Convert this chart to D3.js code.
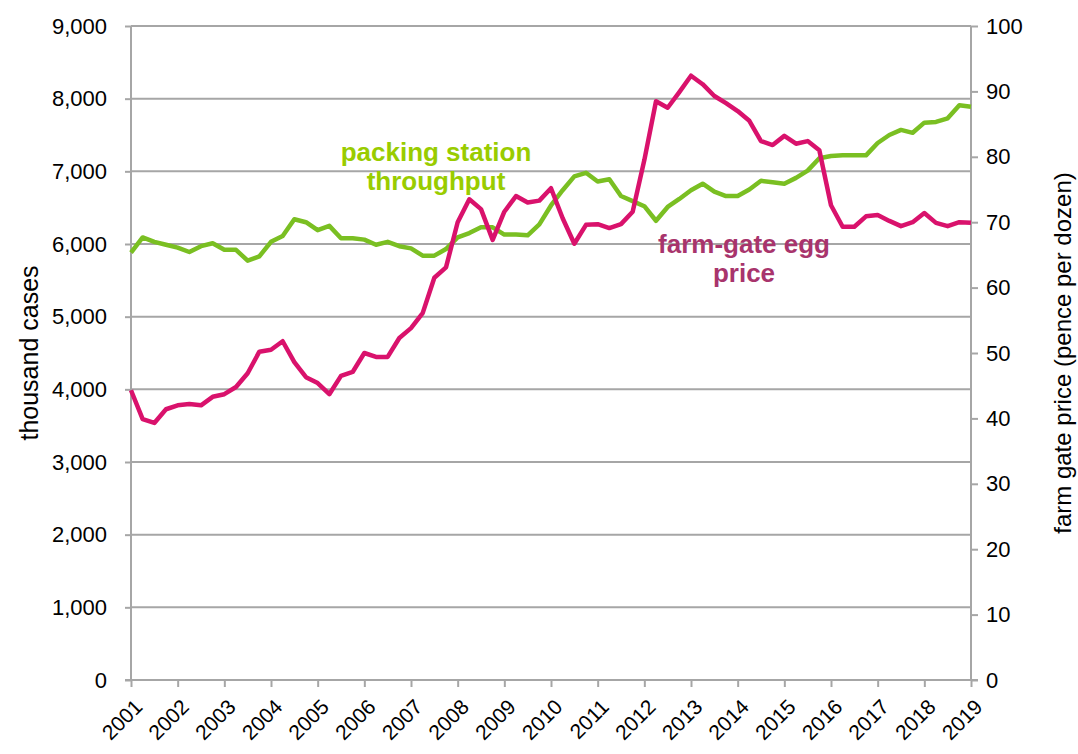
<!DOCTYPE html>
<html>
<head>
<meta charset="utf-8">
<script src="https://cdn.jsdelivr.net/npm/d3@7"></script>
<style>
body { margin: 0; background: #fff; }
text { font-family: "Liberation Sans", Arial, sans-serif; }
</style>
</head>
<body>
<div id="chart"></div>
<script>
// quarterly, 2001 Q1 .. 2019 Q1
var years = d3.range(2001, 2020);
var throughput = [5880, 6090, 6030, 5990, 5950, 5890, 5970, 6010, 5920, 5920, 5770, 5830,
    6030, 6110, 6340, 6300, 6190, 6250, 6080, 6080, 6060, 5990, 6030, 5970,
    5940, 5840, 5840, 5930, 6090, 6150, 6230, 6230, 6130, 6130, 6120, 6270,
    6530, 6740, 6930, 6980, 6860, 6890, 6660, 6590, 6520, 6320, 6510, 6620,
    6740, 6830, 6720, 6660, 6660, 6750, 6870, 6850, 6830, 6910, 7010, 7180,
    7210, 7220, 7220, 7220, 7390, 7500, 7570, 7530, 7670, 7680, 7730, 7910,
    7890];
var eggPrice = [44.3, 39.9, 39.3, 41.4, 42.0, 42.2, 42.0, 43.3, 43.7, 44.8, 46.9, 50.2,
    50.5, 51.8, 48.6, 46.3, 45.4, 43.7, 46.5, 47.1, 50.0, 49.4, 49.4, 52.3,
    53.8, 56.1, 61.5, 63.1, 70.0, 73.5, 72.0, 67.3, 71.6, 74.0, 73.0, 73.3,
    75.2, 70.6, 66.7, 69.6, 69.7, 69.1, 69.7, 71.6, 79.5, 88.5, 87.5, 89.9,
    92.4, 91.1, 89.3, 88.2, 87.0, 85.5, 82.4, 81.8, 83.2, 82.0, 82.4, 81.0,
    72.6, 69.3, 69.3, 70.9, 71.1, 70.2, 69.4, 70.0, 71.4, 69.9, 69.4, 70.0,
    69.9];
var leftTicks = d3.range(0, 9001, 1000);
var rightTicks = d3.range(0, 101, 10);

var width = 1078, height = 754;
var margin = {top: 26, right: 107, bottom: 74, left: 131};
var gridColor = "#a6a6a6";

var svg = d3.select("#chart").append("svg")
    .attr("width", width)
    .attr("height", height);

var x = d3.scaleLinear().domain([2001, 2019]).range([margin.left, width - margin.right]);
var yL = d3.scaleLinear().domain([0, 9000]).range([height - margin.bottom, margin.top]);
var yR = d3.scaleLinear().domain([0, 100]).range([height - margin.bottom, margin.top]);

// gridlines
svg.append("g").selectAll("line")
    .data(leftTicks)
    .enter().append("line")
    .attr("x1", margin.left)
    .attr("x2", width - margin.right)
    .attr("y1", function(d){ return yL(d); })
    .attr("y2", function(d){ return yL(d); })
    .attr("stroke", gridColor)
    .attr("stroke-width", 2);

// left axis
var leftAxis = svg.append("g")
    .attr("transform", "translate(" + margin.left + ",0)")
    .call(d3.axisLeft(yL).tickValues(leftTicks).tickFormat(d3.format(",")).tickSize(6).tickPadding(18));

// right axis
var rightAxis = svg.append("g")
    .attr("transform", "translate(" + (width - margin.right) + ",0)")
    .call(d3.axisRight(yR).tickValues(rightTicks).tickSize(7).tickPadding(8));

// bottom axis
var bottomAxis = svg.append("g")
    .attr("transform", "translate(0," + (height - margin.bottom) + ")")
    .call(d3.axisBottom(x).tickValues(years).tickFormat(d3.format("d")).tickSize(7));

[leftAxis, rightAxis, bottomAxis].forEach(function(a){
    a.selectAll("path").attr("stroke", gridColor).attr("stroke-width", 2);
    a.selectAll("line").attr("stroke", gridColor).attr("stroke-width", 2);
    a.selectAll("text").attr("fill", "#000").style("font-size", "22px")
        .style("font-family", "'Liberation Sans', Arial, sans-serif");
});
leftAxis.select(".domain").attr("d", "M0," + margin.top + "V" + (height - margin.bottom));
rightAxis.select(".domain").attr("d", "M0," + margin.top + "V" + (height - margin.bottom));
bottomAxis.select(".domain").attr("d", "M" + (margin.left - 6) + ",0H" + (width - margin.right + 7));

bottomAxis.selectAll("text")
    .style("font-size", "21px")
    .style("text-anchor", "end")
    .attr("x", 0)
    .attr("y", 0)
    .attr("dy", "0.35em")
    .attr("transform", "translate(7,23) rotate(-45)");

// lines
var qx = function(d, i){ return x(2001 + i / 4); };

svg.append("path")
    .datum(throughput)
    .attr("fill", "none")
    .attr("stroke", "#7abf22")
    .attr("stroke-width", 4.5)
    .attr("stroke-linejoin", "round")
    .attr("d", d3.line().x(qx).y(function(d){ return yL(d); }));

svg.append("path")
    .datum(eggPrice)
    .attr("fill", "none")
    .attr("stroke", "#d9126c")
    .attr("stroke-width", 4.5)
    .attr("stroke-linejoin", "round")
    .attr("d", d3.line().x(qx).y(function(d){ return yR(d); }));

// series labels
var greenLabel = svg.append("text")
    .attr("x", 436)
    .attr("y", 161)
    .attr("fill", "#99cc00")
    .style("font-size", "26px")
    .style("font-weight", "bold")
    .style("text-anchor", "middle");
greenLabel.append("tspan").attr("x", 436).text("packing station");
greenLabel.append("tspan").attr("x", 436).attr("dy", 29).text("throughput");

var pinkLabel = svg.append("text")
    .attr("x", 744)
    .attr("y", 253)
    .attr("fill", "#a8346c")
    .style("font-size", "26px")
    .style("font-weight", "bold")
    .style("text-anchor", "middle");
pinkLabel.append("tspan").attr("x", 744).text("farm-gate egg");
pinkLabel.append("tspan").attr("x", 744).attr("dy", 29).text("price");

// axis titles
svg.append("text")
    .attr("transform", "translate(38," + ((margin.top + height - margin.bottom) / 2) + ") rotate(-90)")
    .style("text-anchor", "middle")
    .style("font-size", "25px")
    .text("thousand cases");

svg.append("text")
    .attr("transform", "translate(1071," + ((margin.top + height - margin.bottom) / 2) + ") rotate(-90)")
    .style("text-anchor", "middle")
    .style("font-size", "24px")
    .text("farm gate price (pence per dozen)");
</script>
</body>
</html>
